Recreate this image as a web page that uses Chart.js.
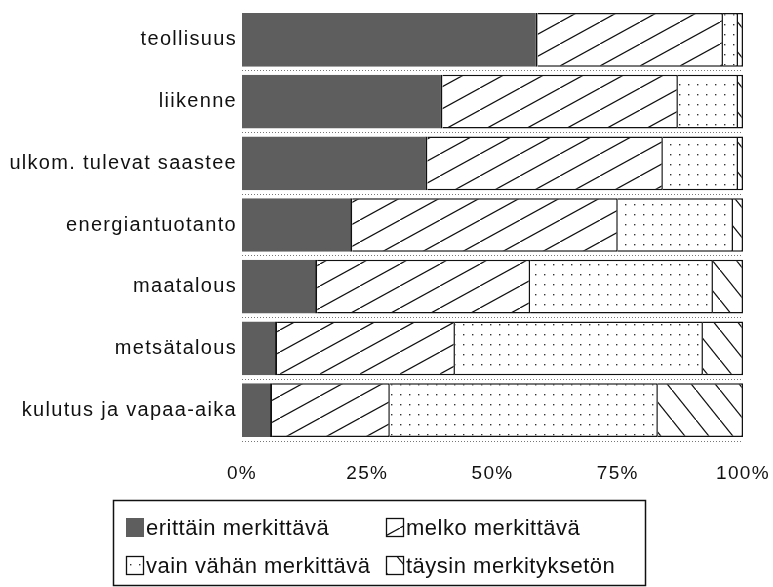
<!DOCTYPE html>
<html>
<head>
<meta charset="utf-8">
<script src="https://cdn.jsdelivr.net/npm/chart.js@4/dist/chart.umd.min.js"></script>
<style>
  html, body { margin: 0; padding: 0; background: #fff; }
  #wrap { width: 773px; height: 587px; }
</style>
</head>
<body>
<div id="wrap"><canvas id="chart" width="773" height="587"></canvas></div>
<script>
const categories = [
  "teollisuus",
  "liikenne",
  "ulkom. tulevat saastee",
  "energiantuotanto",
  "maatalous",
  "metsätalous",
  "kulutus ja vapaa-aika",
];
const seriesLabels = [
  "erittäin merkittävä",
  "melko merkittävä",
  "vain vähän merkittävä",
  "täysin merkityksetön",
];
const erittain = [59, 40, 37, 22, 15, 7, 6];
const melko = [37, 47, 47, 53, 42.5, 35.5, 23.5];
const vainVahan = [3, 12, 15, 23, 36.5, 49.5, 53.5];
const taysin = [1, 1, 1, 2, 6, 8, 17];
const xTicks = [0, 25, 50, 75, 100];

// patterns for the white segments
function makePattern(w, h, draw) {
  const c = document.createElement("canvas");
  c.width = w;
  c.height = h;
  const g = c.getContext("2d");
  g.fillStyle = "#fff";
  g.fillRect(0, 0, w, h);
  draw(g, w, h);
  return g.createPattern(c, "repeat");
}

const slashPattern = makePattern(40, 22, (g, w, h) => {
  g.strokeStyle = "#111";
  g.lineWidth = 1.2;
  g.beginPath();
  g.moveTo(-w, 2 * h);
  g.lineTo(2 * w, -h);
  g.stroke();
});

const dotPattern = makePattern(9, 10, (g) => {
  g.fillStyle = "#333";
  g.fillRect(4, 4, 1.4, 1.4);
});

const backslashPattern = makePattern(24, 30, (g, w, h) => {
  g.strokeStyle = "#111";
  g.lineWidth = 1.2;
  g.beginPath();
  g.moveTo(-w, -h);
  g.lineTo(2 * w, 2 * h);
  g.stroke();
});

const fills = ["#5e5e5e", slashPattern, dotPattern, backslashPattern];
const values = [erittain, melko, vainVahan, taysin];

const fontFamily = '"Liberation Sans", Arial, sans-serif';
Chart.defaults.font.family = fontFamily;
Chart.defaults.color = "#111";

// legend in a box under the axis, two columns
const boxLegend = {
  id: "boxLegend",
  beforeDraw(chart) {
    chart.ctx.letterSpacing = "1.3px";
  },
  afterDraw(chart) {
    const ctx = chart.ctx;
    ctx.save();
    ctx.letterSpacing = "0.5px";
    ctx.strokeStyle = "#111";
    ctx.lineWidth = 1.5;
    ctx.strokeRect(113.5, 500.5, 532, 85);
    ctx.font = "22px " + fontFamily;
    ctx.textBaseline = "middle";
    chart.data.datasets.forEach((ds, i) => {
      const x = i % 2 ? 386 : 126;
      const y = i < 2 ? 518 : 556;
      ctx.fillStyle = ds.backgroundColor;
      ctx.fillRect(x, y, 18, 19);
      if (i > 0) {
        ctx.lineWidth = 1.3;
        ctx.strokeRect(x + 0.5, y + 0.5, 17, 18);
      }
      ctx.fillStyle = "#111";
      ctx.fillText(ds.label, x + 20, y + 11);
    });
    ctx.restore();
  },
};

new Chart(document.getElementById("chart"), {
  type: "bar",
  data: {
    labels: categories,
    datasets: seriesLabels.map((label, i) => ({
      label: label,
      data: values[i],
      backgroundColor: fills[i],
      borderColor: "#111",
      borderWidth: i === 0 ? { left: 0, top: 0, bottom: 0, right: 2 } : 1.5,
      borderSkipped: "start",
      barPercentage: 0.87,
      categoryPercentage: 1,
    })),
  },
  options: {
    indexAxis: "y",
    responsive: false,
    animation: false,
    layout: { padding: { top: 9, right: 30, bottom: 106, left: 0 } },
    plugins: {
      legend: { display: false },
      tooltip: { enabled: false },
    },
    scales: {
      x: {
        stacked: true,
        min: 0,
        max: 100,
        afterBuildTicks: (scale) => {
          scale.ticks = xTicks.map((v) => ({ value: v }));
        },
        afterFit: (scale) => {
          scale.height = 40;
          scale.paddingLeft = 0;
          scale.paddingRight = 0;
        },
        ticks: {
          padding: 13,
          font: { size: 19 },
          callback: (v) => v + "%",
        },
        grid: { display: false },
        border: { display: false },
      },
      y: {
        stacked: true,
        afterFit: (scale) => {
          scale.width = 242;
          scale.paddingTop = 0;
          scale.paddingBottom = 0;
        },
        ticks: { padding: 5, font: { size: 20 } },
        grid: {
          drawTicks: false,
          color: (c) => (c.index === 0 ? "rgba(0,0,0,0)" : "#777"),
          lineWidth: 1,
        },
        border: { display: false, dash: [1, 2] },
      },
    },
  },
  plugins: [boxLegend],
});
</script>
</body>
</html>
